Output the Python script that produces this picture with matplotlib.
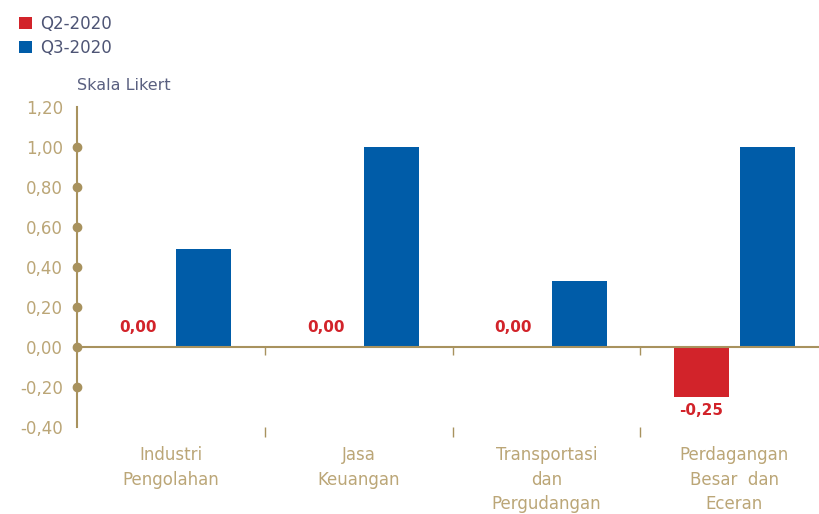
import matplotlib.pyplot as plt
import numpy as np

plt.rcParams['font.family'] = 'DejaVu Sans'

categories = ['Industri\nPengolahan', 'Jasa\nKeuangan', 'Transportasi\ndan\nPergudangan', 'Perdagangan\nBesar  dan\nEceran']
q2 = [0.00, 0.00, 0.00, -0.25]
q3 = [0.49, 1.00, 0.33, 1.00]
yticks = [-0.40, -0.20, 0.00, 0.20, 0.40, 0.60, 0.80, 1.00, 1.20]

red = '#d2232a'
blue = '#005ca8'
tan = '#a8925e'
label_tan = '#bba677'

fig = plt.figure(figsize=(8.19, 5.14), dpi=100)
ax = fig.add_axes([77/819, 1-427/514, 751/819, 320/514])

x = np.arange(len(categories))
off = 0.176
w = 0.293
ax.bar(x - off, q2, w, color=red, label='Q2-2020', zorder=2)
ax.bar(x + off, q3, w, color=blue, label='Q3-2020', zorder=2)

ax.set_xlim(-0.5, len(categories) - 0.5)
ax.set_ylim(-0.40, 1.20)

# zero line with small category separators
ax.axhline(0, color=tan, lw=1.5, zorder=3)
bounds = x[:-1] + 0.5
ax.vlines(bounds, -0.04, 0, color=tan, lw=1, zorder=3)

for spine in ['top', 'right', 'bottom']:
    ax.spines[spine].set_visible(False)
ax.spines['left'].set_color(tan)
ax.spines['left'].set_linewidth(1.5)

ax.set_yticks(yticks)
ax.set_yticklabels([f'{v:.2f}'.replace('.', ',') for v in yticks])
ax.tick_params(axis='y', length=0, pad=10, labelsize=12, labelcolor=label_tan)
ax.plot([-0.5] * 7, yticks[1:-1], 'o', color=tan, ms=6, clip_on=False, zorder=4)

ax.set_xticks(x)
ax.set_xticklabels(categories, linespacing=1.45)
ax.tick_params(axis='x', length=0, pad=14, labelsize=12, labelcolor=label_tan)
ax.set_xticks(bounds, minor=True)
ax.tick_params(axis='x', which='minor', length=7, width=1, color=tan)

for xi, v in zip(x, q2):
    lbl = f'{v:.2f}'.replace('.', ',')
    if v >= 0:
        ax.text(xi - off, v + 0.06, lbl, ha='center', va='bottom', color=red,
                fontsize=11, fontweight='bold')
    else:
        ax.text(xi - off, v - 0.03, lbl, ha='center', va='top', color=red,
                fontsize=11, fontweight='bold')

fig.text(77/819, 1-85/514, 'Skala Likert', color='#5a6080', fontsize=11.5, va='center')

fig.legend(loc='upper left', bbox_to_anchor=(0.005, 1.0), frameon=False,
           handlelength=0.75, handleheight=0.75, handletextpad=0.5,
           labelspacing=0.35, fontsize=12, labelcolor='#4e5575')

plt.savefig('out.png', dpi=100)
